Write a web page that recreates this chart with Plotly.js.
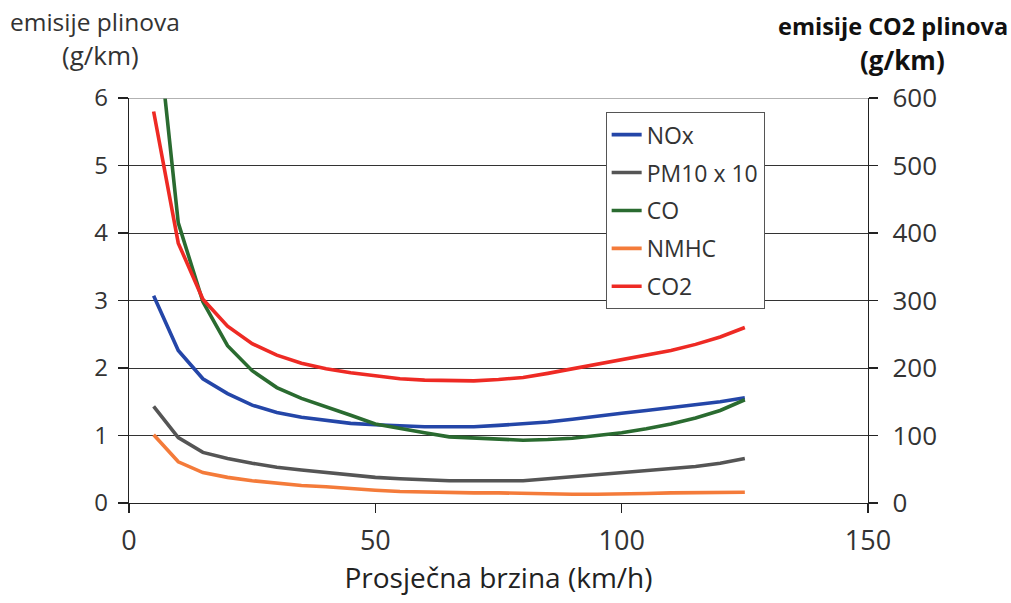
<!DOCTYPE html>
<html>
<head>
<meta charset="utf-8">
<script src="https://cdn.plot.ly/plotly-3.0.1.min.js"></script>
<style>html,body{margin:0;padding:0;background:#fff;}#chart{width:1011px;height:603px;}</style>
</head>
<body>
<div id="chart"></div>
<script>
const speed = [5,10,15,20,25,30,35,40,45,50,55,60,65,70,75,80,85,90,95,100,105,110,115,120,125];
const nox  = [3.07,2.26,1.84,1.62,1.45,1.34,1.27,1.22,1.18,1.16,1.14,1.13,1.13,1.13,1.15,1.17,1.20,1.24,1.29,1.33,1.37,1.41,1.45,1.50,1.56];
const pm10 = [1.43,0.97,0.75,0.66,0.59,0.53,0.49,0.45,0.41,0.38,0.36,0.34,0.33,0.33,0.33,0.33,0.36,0.39,0.42,0.45,0.48,0.51,0.54,0.59,0.66];
const co   = [7.6,4.15,2.98,2.33,1.96,1.71,1.55,1.43,1.30,1.17,1.10,1.04,0.98,0.96,0.94,0.93,0.94,0.96,1.00,1.04,1.10,1.17,1.26,1.37,1.53];
const nmhc = [1.01,0.61,0.45,0.38,0.33,0.29,0.26,0.24,0.21,0.19,0.17,0.16,0.16,0.15,0.15,0.14,0.14,0.13,0.13,0.13,0.14,0.15,0.15,0.15,0.16];
const co2  = [580,385,302,262,236,219,207,199,193,188,184,182,181,181,183,186,192,199,206,213,219,226,235,246,260];
const seriesNames = ['NOx','PM10 x 10','CO','NMHC','CO2'];
const leftTicks = [0,1,2,3,4,5,6];
const rightTicks = [0,100,200,300,400,500,600];
const xTicks = [0,50,100,150];

const colors = ['#2446a8','#555555','#2a6b30','#f47b3a','#ee2a24'];
const font = 'Open Sans, Noto Sans, sans-serif';
const ys = [nox, pm10, co, nmhc, co2];
const traces = ys.map((y, i) => ({
  x: speed, y: y, name: seriesNames[i], type: 'scatter', mode: 'lines',
  yaxis: i === 4 ? 'y2' : 'y', legendgroup: 'g' + i,
  line: {color: colors[i], width: 3.6}
}));

const layout = {
  width: 1011, height: 603,
  margin: {l: 129, r: 143, t: 98, b: 100},
  paper_bgcolor: '#fff', plot_bgcolor: '#fff',
  font: {family: font, color: '#333'},
  showlegend: true,
  legend: {
    x: 0.645, y: 0.965, xanchor: 'left', yanchor: 'top',
    bgcolor: '#fff', bordercolor: '#555', borderwidth: 1,
    font: {family: font, size: 23, color: '#333'},
    traceorder: 'grouped', tracegroupgap: 5, itemwidth: 30
  },
  xaxis: {
    range: [0, 150], tickvals: xTicks, ticktext: xTicks.map(String),
    showgrid: false, zeroline: false, showline: true, linecolor: '#222', linewidth: 1.3,
    ticks: 'outside', ticklen: 9, tickcolor: '#222', tickwidth: 1.3, ticklabelstandoff: 4,
    tickfont: {family: font, size: 27, color: '#333'},
    title: {text: 'Prosječna brzina (km/h)', font: {family: font, size: 28, color: '#222'}, standoff: 10}
  },
  yaxis: {
    range: [0, 6], tickvals: leftTicks, ticktext: leftTicks.map(String),
    showgrid: true, gridcolor: '#333', gridwidth: 1, zeroline: false,
    showline: true, linecolor: '#222', linewidth: 1.3,
    ticks: 'outside', ticklen: 10, tickcolor: '#222', tickwidth: 1.3, ticklabelstandoff: 5,
    tickfont: {family: font, size: 24, color: '#333'}
  },
  yaxis2: {
    range: [0, 600], tickvals: rightTicks, ticktext: rightTicks.map(String),
    overlaying: 'y', side: 'right', showgrid: false, zeroline: false,
    showline: true, linecolor: '#222', linewidth: 1.3,
    ticks: 'outside', ticklen: 9, tickcolor: '#222', tickwidth: 1.3, ticklabelstandoff: 9,
    tickfont: {family: font, size: 26, color: '#333'}
  },
  shapes: [
    {type: 'line', xref: 'paper', yref: 'y', x0: 0, x1: 1, y0: 6, y1: 6, line: {color: '#999', width: 1.4}, layer: 'above'}
  ],
  annotations: [
    {xref: 'paper', yref: 'paper', x: -0.046, y: 1.188, xanchor: 'center', yanchor: 'middle', text: 'emisije plinova', showarrow: false, font: {family: font, size: 24.5, color: '#333'}},
    {xref: 'paper', yref: 'paper', x: -0.039, y: 1.106, xanchor: 'center', yanchor: 'middle', text: '(g/km)', showarrow: false, font: {family: font, size: 26, color: '#333'}},
    {xref: 'paper', yref: 'paper', x: 1.034, y: 1.178, xanchor: 'center', yanchor: 'middle', text: '<b>emisije CO2 plinova</b>', showarrow: false, font: {family: font, size: 23.5, color: '#111'}},
    {xref: 'paper', yref: 'paper', x: 1.047, y: 1.094, xanchor: 'center', yanchor: 'middle', text: '<b>(g/km)</b>', showarrow: false, font: {family: font, size: 26, color: '#111'}}
  ]
};

Plotly.newPlot('chart', traces, layout, {displayModeBar: false, staticPlot: true});
</script>
</body>
</html>
